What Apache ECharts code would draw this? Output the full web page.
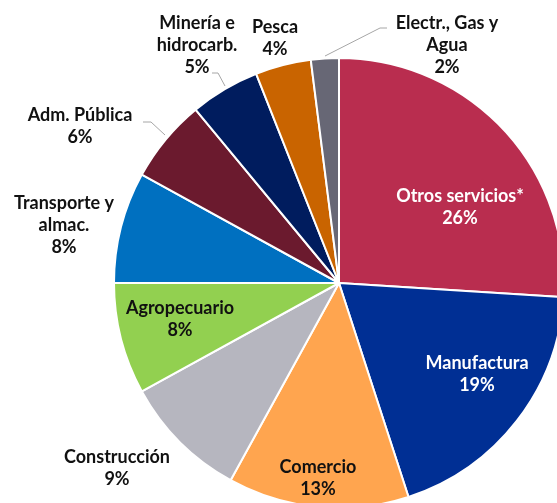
<!DOCTYPE html>
<html>
<head>
<meta charset="utf-8">
<script src="https://cdn.jsdelivr.net/npm/echarts@6/dist/echarts.min.js"></script>
<style>
  html, body { margin: 0; padding: 0; background: #fff; }
  #main { width: 557px; height: 503px; }
</style>
</head>
<body>
<div id="main"></div>
<script>
// sectores (orden horario desde las 12)
var sectores = ['Otros servicios*', 'Manufactura', 'Comercio', 'Construcción', 'Agropecuario',
                'Transporte y\nalmac.', 'Adm. Pública', 'Minería e\nhidrocarb.', 'Pesca', 'Electr., Gas y\nAgua'];
var valores = [26, 19, 13, 9, 8, 8, 6, 5, 4, 2];
var colores = ['#B92D4F', '#002F94', '#FFA54F', '#B6B6BF', '#92D050',
               '#0070C0', '#6B1A2E', '#001C5E', '#C96400', '#676775'];

// donde va cada etiqueta (centro del texto)
var posEtiqueta = [[460, 207], [477, 374], [318, 478], [117, 468], [180, 319],
                   [64, 225], [80, 126], [197, 45], [275, 38], [447, 45]];
var lineas = {
    6: [[165, 135], [151, 122], [143, 122]],
    7: [[225, 86], [218, 73], [212, 73]],
    9: [[325, 56], [380, 28], [387, 28]]
};
var textoBlanco = [0, 1];

var data = sectores.map(function(n, i){
    return {
        name: n,
        value: valores[i],
        itemStyle: { color: colores[i] },
        label: { color: textoBlanco.indexOf(i) >= 0 ? '#ffffff' : '#111111' },
        labelLine: { show: !!lineas[i] }
    };
});

var myChart = echarts.init(document.getElementById('main'));
myChart.setOption({
    animation: false,
    series: [{
        type: 'pie',
        center: [339, 283],
        radius: 225,
        startAngle: 90,
        clockwise: true,
        avoidLabelOverlap: false,
        itemStyle: { borderColor: '#ffffff', borderWidth: 2 },
        label: {
            show: true,
            position: 'outside',
            formatter: function(p){ return p.name + '\n' + p.value + '%'; },
            fontFamily: 'Lato',
            fontWeight: 'bold',
            fontSize: 18,
            lineHeight: 22
        },
        labelLine: {
            lineStyle: { color: '#A6A6A6', width: 1 }
        },
        labelLayout: function(params){
            var i = params.dataIndex;
            var r = {
                x: posEtiqueta[i][0],
                y: posEtiqueta[i][1],
                align: 'center',
                verticalAlign: 'middle'
            };
            if (lineas[i]) r.labelLinePoints = lineas[i];
            return r;
        },
        data: data
    }]
});
</script>
</body>
</html>
